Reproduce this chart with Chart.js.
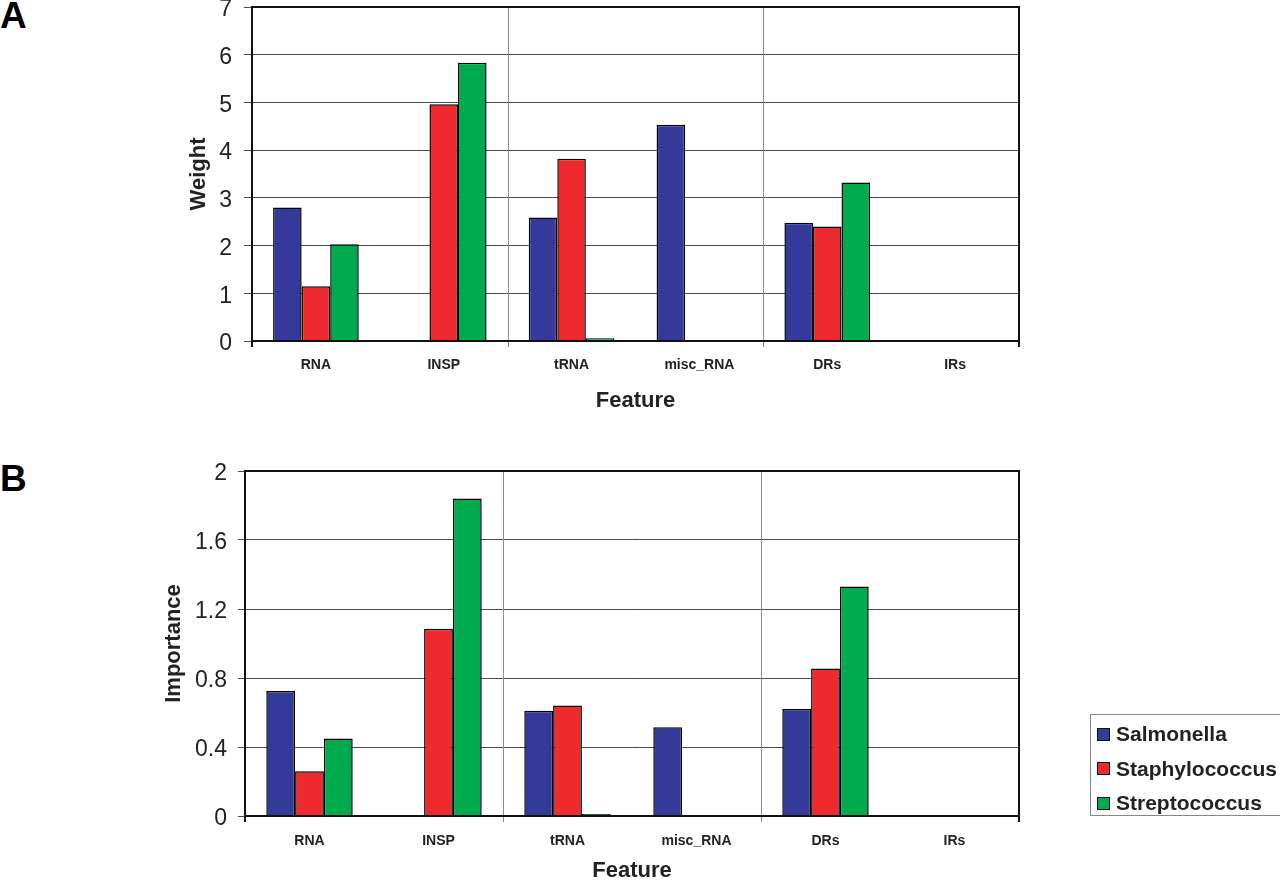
<!DOCTYPE html>
<html>
<head>
<meta charset="utf-8">
<script src="https://cdn.jsdelivr.net/npm/chart.js@4.4.0/dist/chart.umd.min.js"></script>
<style>
  html, body { margin: 0; padding: 0; background: #fff; }
  body { width: 1280px; height: 884px; position: relative; overflow: hidden; font-family: "Liberation Sans", Arial, sans-serif; }
  canvas { position: absolute; left: 0; }
  #chartA { top: -11px; }
  #chartB { top: 450px; }
  .panel { position: absolute; left: 0; font-weight: bold; font-size: 37px; line-height: 37px; color: #000; }
  #legend { position: absolute; left: 1090px; top: 714px; width: 200px; height: 102px; border: 1px solid #888; box-sizing: border-box; padding-top: 2px; }
  #legend .item { height: 34.5px; display: flex; align-items: center; font-weight: bold; font-size: 21px; color: #222; white-space: nowrap; }
  #legend .sw { width: 11px; height: 11px; border: 1px solid #111; margin: 0 6px 0 6px; }
</style>
</head>
<body>
<div class="panel" style="top:-3px">A</div>
<div class="panel" style="top:460px">B</div>
<canvas id="chartA" width="1280" height="431"></canvas>
<canvas id="chartB" width="1280" height="434"></canvas>
<div id="legend"></div>
<script>
// --- Data ---
const features = ["RNA", "INSP", "tRNA", "misc_RNA", "DRs", "IRs"];
const species = ["Salmonella", "Staphylococcus", "Streptococcus"];
const speciesColors = ["#343a9a", "#ee2a2f", "#00ab4e"];

const weightSalmonella     = [2.80, 0,    2.59, 4.53, 2.48, 0];
const weightStaphylococcus = [1.15, 4.96, 3.82, 0,    2.40, 0];
const weightStreptococcus  = [2.03, 5.83, 0.06, 0,    3.32, 0];

const importanceSalmonella     = [0.725, 0,     0.61,  0.515, 0.62,  0];
const importanceStaphylococcus = [0.26,  1.085, 0.64,  0,     0.855, 0];
const importanceStreptococcus  = [0.45,  1.84,  0.012, 0,     1.33,  0];

const weightTicks = [0, 1, 2, 3, 4, 5, 6, 7];
const importanceTicks = [0, 0.4, 0.8, 1.2, 1.6, 2];

const FONT = "'Liberation Sans', Arial, sans-serif";

// vertical separators every 2 categories + black box round the plot
const excelFrame = {
  id: "excelFrame",
  beforeDatasetsDraw(chart) {
    const { ctx, chartArea: a, scales: { x } } = chart;
    ctx.save();
    ctx.strokeStyle = "#8c8c8c";
    ctx.lineWidth = 1;
    for (let i = 2; i < features.length; i += 2) {
      const px = Math.round(x.getPixelForValue(i - 0.5)) + 0.5;
      ctx.beginPath();
      ctx.moveTo(px, a.top);
      ctx.lineTo(px, a.bottom + 6);
      ctx.stroke();
    }
    ctx.restore();
  },
  afterDatasetsDraw(chart) {
    const { ctx, chartArea: a } = chart;
    ctx.save();
    ctx.strokeStyle = "#111";
    ctx.lineWidth = 2;
    ctx.strokeRect(a.left, a.top, a.right - a.left, a.bottom - a.top);
    ctx.beginPath();
    ctx.moveTo(a.right, a.bottom);
    ctx.lineTo(a.right, a.bottom + 6);
    ctx.moveTo(a.left, a.bottom);
    ctx.lineTo(a.left, a.bottom + 6);
    ctx.stroke();
    ctx.restore();
  }
};

function makeChart(id, cfg) {
  const datasets = cfg.series.map((data, i) => ({
    label: species[i],
    data: data,
    backgroundColor: speciesColors[i],
    borderColor: "#000",
    borderWidth: 1.5,
    categoryPercentage: 0.67,
    barPercentage: 1.0
  }));
  return new Chart(document.getElementById(id), {
    type: "bar",
    data: { labels: features, datasets },
    plugins: [excelFrame],
    options: {
      responsive: false,
      animation: false,
      layout: { padding: { left: cfg.padLeft, right: 261, top: cfg.padTop, bottom: 0 } },
      plugins: { legend: { display: false }, tooltip: { enabled: false } },
      scales: {
        x: {
          grid: { display: false, drawTicks: false },
          border: { color: "#111", width: 2 },
          ticks: { color: "#222", font: { family: FONT, size: 14, weight: "bold" }, padding: cfg.xPad, maxRotation: 0 },
          title: { display: true, text: "Feature", color: "#222", font: { family: FONT, size: 22, weight: "bold" }, padding: { top: 0, bottom: cfg.titlePadBottom } },
          afterFit: (s) => { s.height = cfg.xHeight; }
        },
        y: {
          min: 0,
          max: cfg.ticks[cfg.ticks.length - 1],
          afterBuildTicks: (s) => { s.ticks = cfg.ticks.map(v => ({ value: v })); },
          grid: { color: "#4a4a4a", lineWidth: 1, tickLength: cfg.tickLen },
          border: { color: "#111", width: 2 },
          // empty first line + short line height: numbers sit ~3px below their gridline, as in the original
          ticks: { color: "#222", font: { family: FONT, size: 23, lineHeight: "6px" }, padding: cfg.yPad, callback: (v) => ["", String(v)] },
          title: { display: true, text: cfg.yTitle, color: "#222", font: { family: FONT, size: 22, weight: "bold" }, padding: { top: 6, bottom: 0 } },
          afterFit: (s) => { s.width = cfg.yWidth; }
        }
      }
    }
  });
}

makeChart("chartA", {
  series: [weightSalmonella, weightStaphylococcus, weightStreptococcus],
  ticks: weightTicks,
  yTitle: "Weight",
  padLeft: 180, yWidth: 72, padTop: 6,
  tickLen: 8, yPad: 12,
  xHeight: 79, xPad: 16, titlePadBottom: 6
});

makeChart("chartB", {
  series: [importanceSalmonella, importanceStaphylococcus, importanceStreptococcus],
  ticks: importanceTicks,
  yTitle: "Importance",
  padLeft: 155, yWidth: 90, padTop: 21,
  tickLen: 7, yPad: 11,
  xHeight: 68, xPad: 17, titlePadBottom: 0
});

// --- Legend (panel B) ---
const legend = document.getElementById("legend");
species.forEach((name, i) => {
  const row = document.createElement("div");
  row.className = "item";
  const sw = document.createElement("span");
  sw.className = "sw";
  sw.style.background = speciesColors[i];
  row.appendChild(sw);
  row.appendChild(document.createTextNode(name));
  legend.appendChild(row);
});
</script>
</body>
</html>
